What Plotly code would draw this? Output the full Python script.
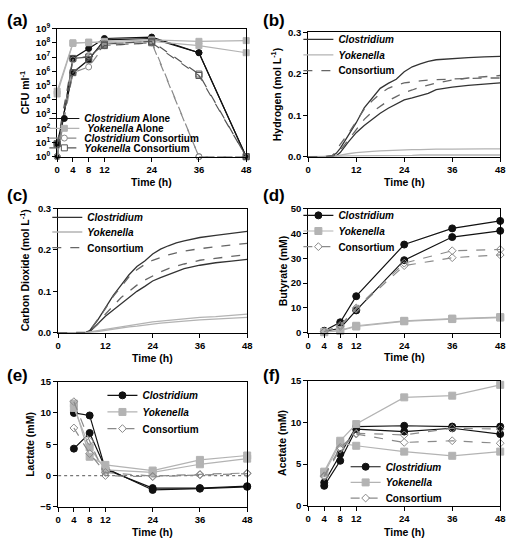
import plotly.graph_objects as go

W, H = 519, 550

# ---- data ----
t_pts = [4, 8, 12, 24, 36, 48]
t_cfu = [0, 4, 8, 12, 24, 36, 48]
t_gas = [0, 4, 6, 7, 8, 10, 12, 14, 16, 18, 20, 22, 24, 26, 28, 30, 32, 36, 40, 44, 48]

# (a) CFU ml-1, log10 values, two replicates per group
cfu_clos_alone = [[0, 6.9, 7.6, 8.3, 8.4, 7.3, 0], [0.9, 5.9, 6.8, 8.2, 8.3, 7.3, 0]]
cfu_yok_alone = [[4.6, 8.0, 8.0, 8.1, 8.2, 8.1, 8.15], [4.4, 7.95, 8.05, 8.0, 8.1, 7.8, 7.3]]
cfu_clos_cons = [[0, 5.9, 6.3, 7.8, 8.0, 0, 0], [0, 6.8, 7.1, 7.9, 8.1, 0, 0]]
cfu_yok_cons = [[0.9, 6.9, 7.0, 7.9, 8.1, 5.8, 0], [0.9, 5.9, 6.8, 7.8, 8.0, 5.7, 0]]

# (b) hydrogen, mol L-1
h2_clos = [[0, 0, 0.002, 0.008, 0.02, 0.05, 0.082, 0.118, 0.142, 0.165, 0.177, 0.187, 0.205,
            0.217, 0.224, 0.23, 0.234, 0.237, 0.239, 0.241, 0.242],
           [0, 0, 0, 0.002, 0.01, 0.035, 0.058, 0.075, 0.09, 0.105, 0.117, 0.128, 0.137,
            0.142, 0.147, 0.153, 0.162, 0.168, 0.172, 0.175, 0.178]]
h2_yok = [[0, 0, 0, 0.002, 0.004, 0.007, 0.01, 0.012, 0.013, 0.014, 0.015, 0.016, 0.016,
           0.017, 0.017, 0.018, 0.018, 0.018, 0.019, 0.019, 0.019],
          [0, 0, 0, 0, 0.001, 0.002, 0.002, 0.003, 0.003, 0.003, 0.003, 0.003, 0.003,
           0.003, 0.004, 0.004, 0.004, 0.004, 0.004, 0.004, 0.004]]
h2_cons = [[0, 0, 0.003, 0.012, 0.03, 0.055, 0.085, 0.115, 0.135, 0.152, 0.165, 0.173, 0.178,
            0.181, 0.183, 0.185, 0.186, 0.188, 0.189, 0.19, 0.19],
           [0, 0, 0, 0.005, 0.015, 0.04, 0.065, 0.09, 0.108, 0.122, 0.135, 0.145, 0.155,
            0.161, 0.168, 0.173, 0.178, 0.185, 0.19, 0.193, 0.196]]

# (c) carbon dioxide, mol L-1
co2_clos = [[0, 0, 0, 0.001, 0.005, 0.03, 0.06, 0.09, 0.115, 0.14, 0.16, 0.173, 0.19,
             0.202, 0.21, 0.217, 0.222, 0.23, 0.235, 0.24, 0.245],
            [0, 0, 0, 0, 0.002, 0.02, 0.04, 0.055, 0.07, 0.085, 0.1, 0.112, 0.125,
             0.133, 0.14, 0.148, 0.155, 0.163, 0.169, 0.173, 0.177]]
co2_yok = [[0, 0, 0, 0, 0.002, 0.005, 0.008, 0.011, 0.014, 0.018, 0.021, 0.024, 0.026,
            0.028, 0.03, 0.032, 0.034, 0.037, 0.039, 0.042, 0.045],
           [0, 0, 0, 0, 0.001, 0.003, 0.006, 0.008, 0.011, 0.014, 0.016, 0.019, 0.021,
            0.023, 0.025, 0.027, 0.028, 0.031, 0.033, 0.035, 0.037]]
co2_cons = [[0, 0, 0, 0.001, 0.005, 0.03, 0.058, 0.088, 0.112, 0.135, 0.152, 0.165, 0.175,
             0.182, 0.188, 0.193, 0.197, 0.203, 0.208, 0.212, 0.216],
            [0, 0, 0, 0, 0.003, 0.02, 0.045, 0.065, 0.085, 0.1, 0.115, 0.127, 0.138,
             0.147, 0.155, 0.161, 0.166, 0.175, 0.18, 0.185, 0.189]]

# (d) butyrate, mM
but_clos = [[0.8, 4.2, 14.7, 35.5, 42.0, 45.0], [0.5, 1.8, 9.0, 29.2, 38.5, 41.0]]
but_yok = [[0.3, 1.0, 2.8, 4.8, 5.7, 6.3], [0.2, 0.8, 2.5, 4.6, 5.5, 6.1]]
but_cons = [[0.5, 3.0, 10.0, 28.0, 33.0, 33.5], [0.4, 2.5, 9.5, 27.0, 30.2, 31.3]]

# (e) lactate, mM
lac_clos = [[10.0, 9.6, 1.0, -2.0, -2.0, -1.7], [4.3, 6.8, 1.2, -2.3, -2.1, -1.8]]
lac_yok = [[11.5, 3.0, 1.7, 0.8, 2.5, 3.2], [10.8, 4.5, 0.9, 0.5, 1.8, 2.7]]
lac_cons = [[11.8, 5.5, 0.0, -0.2, 0.1, 0.3], [7.6, 3.5, 0.5, -0.1, 0.2, 0.4]]

# (f) acetate, mM
ace_clos = [[2.8, 6.2, 9.5, 9.6, 9.5, 9.5], [2.4, 5.4, 9.2, 8.9, 9.3, 8.6]]
ace_yok = [[4.1, 7.8, 9.8, 13.0, 13.2, 14.5], [3.9, 7.5, 7.2, 6.5, 6.0, 6.5]]
ace_cons = [[3.6, 7.0, 8.7, 8.5, 9.3, 9.2], [3.5, 6.8, 8.6, 7.6, 7.8, 7.5]]

FONT = "Liberation Sans"
BLACK = "#111111"
LIGHT = "#b3b3b3"
MID = "#8a8a8a"
DARK = "#555555"

# panel boxes in pixels: (left, right, top, bottom)
boxes = {
    1: (55, 247, 22, 153),
    2: (310, 505, 26, 153),
    3: (56, 248, 206, 333),
    4: (310, 505, 206, 333),
    5: (56, 248, 383, 511),
    6: (310, 505, 382, 510),
}

# legend entries, one small legend per entry: (left x, centre y) in pixels
leg_x = {1: 42, 2: 300, 3: 45, 4: 300, 5: 101, 6: 348}
leg_y = {1: [114, 124, 134, 144], 2: [33, 49, 65], 3: [215, 230, 246], 4: [213, 229, 245],
         5: [397, 414, 431], 6: [470, 486, 502]}

# axis title positions in pixels (x title centre y, y title centre x)
xtitle_y = {1: 179, 2: 179, 3: 359, 4: 358, 5: 537, 6: 537}
ytitle_x = {1: 22, 2: 277, 3: 22, 4: 284, 5: 28, 6: 284}

fig = go.Figure()
legends = {}


def add(panel, k, x, ys, name, color, symbol=None, dash="solid", fill=True, width=1.2, size=7):
    ax = "" if panel == 1 else str(panel)
    n = len(legends) + 1
    leg = "legend" if n == 1 else "legend%d" % n
    legends[leg] = (leg_x[panel], leg_y[panel][k])
    for i, y in enumerate(ys):
        if panel == 1:
            y = [10 ** v for v in y]
        mode = "lines+markers" if symbol else "lines"
        marker = None
        if symbol:
            marker = dict(symbol=symbol if fill else symbol + "-open", size=size, color=color,
                          line=dict(color=color, width=1))
        fig.add_trace(go.Scatter(
            x=x, y=y, mode=mode, name=name, legend=leg, showlegend=(i == 0),
            line=dict(color=color, dash=dash, width=width), marker=marker,
            xaxis="x" + ax, yaxis="y" + ax, cliponaxis=False))


# (a)
for k, (y, nm, col, sym, dsh, fl) in enumerate([
    (cfu_clos_alone, "<i>Clostridium</i> Alone", BLACK, "circle", "solid", True),
    (cfu_yok_alone, " <i>Yokenella</i> Alone", LIGHT, "square", "solid", True),
    (cfu_clos_cons, "<i>Clostridium</i> Consortium", MID, "circle", "dash", False),
    (cfu_yok_cons, "<i>Yokenella</i> Consortium", DARK, "square", "dash", False),
]):
    add(1, k, t_cfu, y, nm, col, sym, dsh, fl, size=6)

# (b), (c)
for p, clos, yok, cons in [(2, h2_clos, h2_yok, h2_cons), (3, co2_clos, co2_yok, co2_cons)]:
    add(p, 0, t_gas, clos, "<i>Clostridium</i>", "#333333", width=1.3)
    add(p, 1, t_gas, yok, "<i>Yokenella</i>", LIGHT, width=1.3)
    add(p, 2, t_gas, cons, "Consortium", "#666666", dash="dash", width=1.3)

# (d), (e), (f)
for p, clos, yok, cons in [(4, but_clos, but_yok, but_cons), (5, lac_clos, lac_yok, lac_cons),
                           (6, ace_clos, ace_yok, ace_cons)]:
    add(p, 0, t_pts, clos, "<i>Clostridium</i>", BLACK, "circle", size=7)
    add(p, 1, t_pts, yok, "<i>Yokenella</i>", LIGHT, "square", size=7)
    add(p, 2, t_pts, cons, "Consortium", MID, "diamond", "dash", False, size=6)

axfont = dict(family=FONT, size=9.5, color="black", weight="bold")
titlefont = dict(family=FONT, size=10.5, color="black", weight="bold")

ylabels = {
    1: "CFU ml<sup>-1</sup>",
    2: "Hydrogen (mol L<sup>-1</sup>)",
    3: "Carbon Dioxide (mol L<sup>-1</sup>)",
    4: "Butyrate (mM)",
    5: "Lactate (mM)",
    6: "Acetate (mM)",
}
yranges = {1: [0, 9], 2: [0, 0.3], 3: [0, 0.3], 4: [0, 50], 5: [-5, 15], 6: [0, 15]}
ytick = {
    1: dict(tickvals=[10 ** k for k in range(10)],
            ticktext=["10<sup>%d</sup>" % k for k in range(10)]),
    2: dict(tickvals=[0, 0.1, 0.2, 0.3], ticktext=["0.0", "0.1", "0.2", "0.3"]),
    3: dict(tickvals=[0, 0.1, 0.2, 0.3], ticktext=["0.0", "0.1", "0.2", "0.3"]),
    4: dict(tickvals=[0, 10, 20, 30, 40, 50]),
    5: dict(tickvals=[-5, 0, 5, 10, 15]),
    6: dict(tickvals=[0, 5, 10, 15]),
}
xticks = {1: [0, 4, 8, 12, 24, 36, 48], 2: [0, 12, 24, 36, 48], 3: [0, 12, 24, 36, 48],
          4: [0, 4, 8, 12, 24, 36, 48], 5: [0, 4, 8, 12, 24, 36, 48], 6: [0, 4, 8, 12, 24, 36, 48]}

common = dict(showline=True, linecolor="black", linewidth=1.2, mirror=True, ticks="outside",
              ticklen=4, tickwidth=1.2, tickcolor="black", showgrid=False, zeroline=False,
              tickfont=axfont)

lay = {}
for p, (l, r, t, b) in boxes.items():
    ax = "" if p == 1 else str(p)
    lay["xaxis" + ax] = dict(common, domain=[l / W, r / W], range=[0, 48], tickvals=xticks[p],
                             anchor="y" + ax)
    ydict = dict(common, domain=[1 - b / H, 1 - t / H], range=yranges[p], anchor="x" + ax,
                 **ytick[p])
    if p == 1:
        ydict["type"] = "log"
    lay["yaxis" + ax] = ydict

for key, (lx, ly) in legends.items():
    lay[key] = dict(x=lx / W, y=1 - ly / H, xanchor="left", yanchor="middle", xref="paper",
                    yref="paper", bgcolor="rgba(0,0,0,0)", itemwidth=30,
                    font=dict(family=FONT, size=10, color="black", weight="bold"))

fig.update_layout(width=W, height=H, margin=dict(l=0, r=0, t=0, b=0),
                  plot_bgcolor="white", paper_bgcolor="white", **lay)

# axis titles
for p, (l, r, t, b) in boxes.items():
    fig.add_annotation(text="Time (h)", x=(l + r) / 2 / W, y=1 - xtitle_y[p] / H,
                       xref="paper", yref="paper", xanchor="center", yanchor="middle",
                       showarrow=False, font=titlefont)
    fig.add_annotation(text=ylabels[p], x=ytitle_x[p] / W, y=1 - (t + b) / 2 / H,
                       xref="paper", yref="paper", xanchor="center", yanchor="middle",
                       textangle=-90, showarrow=False, font=titlefont)

# dotted zero line in (e)
fig.add_shape(type="line", xref="x5", yref="y5", x0=0, x1=48, y0=0, y1=0,
              line=dict(color="#777777", width=1.2, dash="dot"), layer="below")

for lbl, (px_, py_) in zip("abcdef", [(2, 14), (262, 14), (2, 193), (262, 193), (2, 377), (262, 377)]):
    fig.add_annotation(text="(%s)" % lbl, x=px_ / W, y=1 - py_ / H, xref="paper", yref="paper",
                       xanchor="left", yanchor="middle", showarrow=False,
                       font=dict(family=FONT, size=17, color="black", weight="bold"))

fig.write_html("out.html", config={"displayModeBar": False},
               post_script="document.body.style.margin='0px';")
